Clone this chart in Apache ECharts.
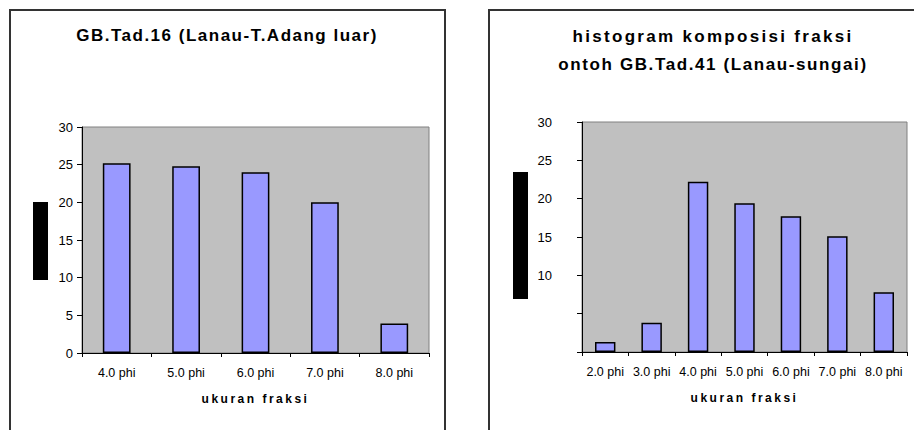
<!DOCTYPE html>
<html>
<head>
<meta charset="utf-8">
<script src="https://cdn.jsdelivr.net/npm/echarts@6/dist/echarts.min.js"></script>
<style>
  html, body { margin: 0; padding: 0; background: #fff; }
  #chart { width: 914px; height: 430px; }
</style>
</head>
<body>
<div id="chart"></div>
<script>
// data
var leftCats = ['4.0 phi', '5.0 phi', '6.0 phi', '7.0 phi', '8.0 phi'];
var leftVals = [25.2, 24.8, 24.0, 20.0, 3.9];
var rightCats = ['2.0 phi', '3.0 phi', '4.0 phi', '5.0 phi', '6.0 phi', '7.0 phi', '8.0 phi'];
var rightVals = [1.3, 3.8, 22.2, 19.4, 17.7, 15.1, 7.8];
var yMin = 0, yMax = 30, yStep = 5;

var FONT = '"Liberation Sans", Arial, sans-serif';

function xAxisFor(idx, cats) {
  return {
    type: 'category',
    gridIndex: idx,
    data: cats,
    name: 'ukuran fraksi',
    nameLocation: 'middle',
    nameGap: 40,
    nameTextStyle: { fontFamily: FONT, fontSize: 12, fontWeight: 'bold', color: '#000' },
    axisLine: { lineStyle: { color: '#000', width: 1 } },
    axisTick: { show: true, length: 4, lineStyle: { color: '#000' } },
    axisLabel: { fontFamily: FONT, fontSize: 12.5, color: '#000', margin: 13, interval: 0 }
  };
}

function yAxisFor(idx, margin, fmt) {
  return {
    type: 'value',
    gridIndex: idx,
    min: yMin, max: yMax, interval: yStep,
    axisLine: { show: true, lineStyle: { color: '#000', width: 1 } },
    axisTick: { show: true, length: 5, lineStyle: { color: '#000' } },
    axisLabel: { fontFamily: FONT, fontSize: 13, color: '#000', margin: margin, formatter: fmt },
    splitLine: { show: false }
  };
}

function barSeries(idx, vals, width) {
  return {
    type: 'bar',
    xAxisIndex: idx,
    yAxisIndex: idx,
    data: vals,
    barWidth: width,
    itemStyle: { color: '#9999ff', borderColor: '#000', borderWidth: 1.5 }
  };
}

var chart = echarts.init(document.getElementById('chart'), null, { renderer: 'svg' });
chart.setOption({
  animation: false,
  title: [
    {
      text: 'GB.Tad.16 (Lanau-T.Adang luar)',
      left: 227, top: 27, textAlign: 'center', padding: 0,
      textStyle: { fontFamily: FONT, fontSize: 17, fontWeight: 'bold', color: '#000' }
    },
    {
      text: 'histogram komposisi fraksi\nontoh GB.Tad.41 (Lanau-sungai)',
      left: 713, top: 22, textAlign: 'center', padding: 0,
      textStyle: { fontFamily: FONT, fontSize: 17, fontWeight: 'bold', color: '#000', lineHeight: 28 }
    }
  ],
  grid: [
    { left: 82, top: 127, width: 347, height: 226, show: true,
      backgroundColor: '#c0c0c0', borderColor: '#808080', borderWidth: 1 },
    { left: 582, top: 122, width: 325, height: 230, show: true,
      backgroundColor: '#c0c0c0', borderColor: '#808080', borderWidth: 1 }
  ],
  xAxis: [xAxisFor(0, leftCats), xAxisFor(1, rightCats)],
  yAxis: [
    yAxisFor(0, 9),
    yAxisFor(1, 30, function (v) { return v >= 10 ? String(v) : ''; })
  ],
  series: [barSeries(0, leftVals, '40%'), barSeries(1, rightVals, '44%')],
  graphic: [
    // frames round each chart
    { type: 'rect', shape: { x: 10, y: 10, width: 435, height: 440 },
      style: { fill: 'none', stroke: '#333', lineWidth: 2 } },
    { type: 'rect', shape: { x: 489, y: 10, width: 440, height: 440 },
      style: { fill: 'none', stroke: '#333', lineWidth: 2 } },
    // blacked-out axis titles
    { type: 'rect', shape: { x: 33, y: 202, width: 15, height: 78 }, style: { fill: '#000' } },
    { type: 'rect', shape: { x: 513, y: 172, width: 15, height: 127 }, style: { fill: '#000' } }
  ]
});

// the original text is drawn spaced out
var spacing = {
  'ukuran fraksi': '2.5px',
  'GB.Tad.16 (Lanau-T.Adang luar)': '1.5px',
  'histogram komposisi fraksi': '2.3px',
  'ontoh GB.Tad.41 (Lanau-sungai)': '1.6px'
};
document.querySelectorAll('#chart svg text').forEach(function (t) {
  var s = spacing[t.textContent];
  if (s) t.style.letterSpacing = s;
});
</script>
</body>
</html>
